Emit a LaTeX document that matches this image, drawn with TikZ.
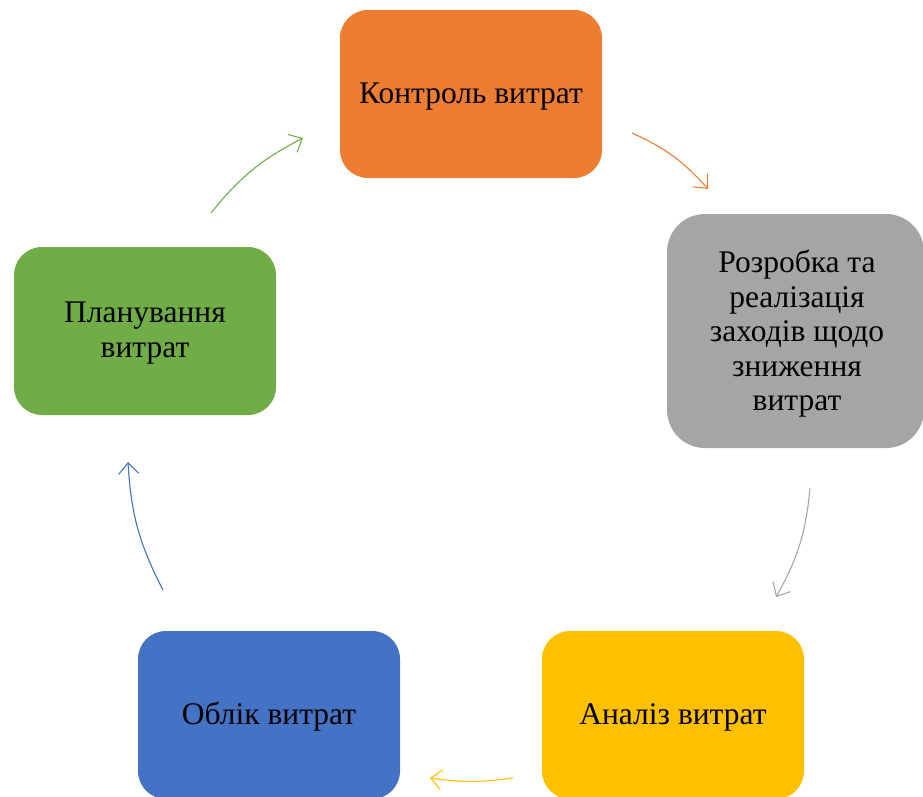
\documentclass[tikz,border=0pt]{standalone}
\usepackage{fontspec}
\setmainfont{Liberation Serif}
\usetikzlibrary{arrows.meta}
\definecolor{cOrange}{HTML}{ED7D31}
\definecolor{cGray}{HTML}{A5A5A5}
\definecolor{cYellow}{HTML}{FFC000}
\definecolor{cBlue}{HTML}{4472C4}
\definecolor{cGreen}{HTML}{70AD47}
\begin{document}
\begin{tikzpicture}[x=1pt,y=1pt,
  lbl/.style={align=center,font=\fontsize{31.5}{34.5}\selectfont,text=black,inner sep=0pt},
  cyc/.style={line width=1.1pt,-{Straight Barb[length=11pt,width=20pt,line width=1.1pt]}}]
\useasboundingbox (0,0) rectangle (923,-796);
\clip (0,0) rectangle (923,-796);
% boxes
\fill[cOrange,rounded corners=28pt] (340,-10) rectangle (602,-178);
\fill[cGray,rounded corners=38pt] (667,-214) rectangle (924,-448);
\fill[cYellow,rounded corners=28pt] (542,-631) rectangle (804,-799);
\fill[cBlue,rounded corners=28pt] (138,-631) rectangle (400,-799);
\fill[cGreen,rounded corners=28pt] (14,-247) rectangle (276,-415);
% labels
\node[lbl] (kontrol) at (471,-97) {Контроль витрат};
\node[lbl] (rozrobka) at (797,-334) {Розробка та\\реалізація\\заходів щодо\\зниження\\витрат};
\node[lbl] (analiz) at (673,-717) {Аналіз витрат};
\node[lbl] (oblik) at (269,-717) {Облік витрат};
\node[lbl] (planuv) at (145,-333) {Планування\\витрат};
% connector endpoints
\coordinate (o1) at (632,-133); \coordinate (o2) at (708,-189);
\coordinate (g1) at (810,-488); \coordinate (g2) at (776,-597);
\coordinate (y1) at (513,-778); \coordinate (y2) at (430,-778);
\coordinate (b1) at (163,-590); \coordinate (b2) at (128,-462);
\coordinate (n1) at (211,-213); \coordinate (n2) at (303,-138);
\draw[cyc,cOrange] (o1) to[bend left=12] (o2);
\draw[cyc,cGray] (g1) to[bend left=12] (g2);
\draw[cyc,cYellow] (y1) to[bend left=8] (y2);
\draw[cyc,cBlue] (b1) to[bend left=12] (b2);
\draw[cyc,cGreen] (n1) to[bend left=12] (n2);
\end{tikzpicture}
\end{document}
